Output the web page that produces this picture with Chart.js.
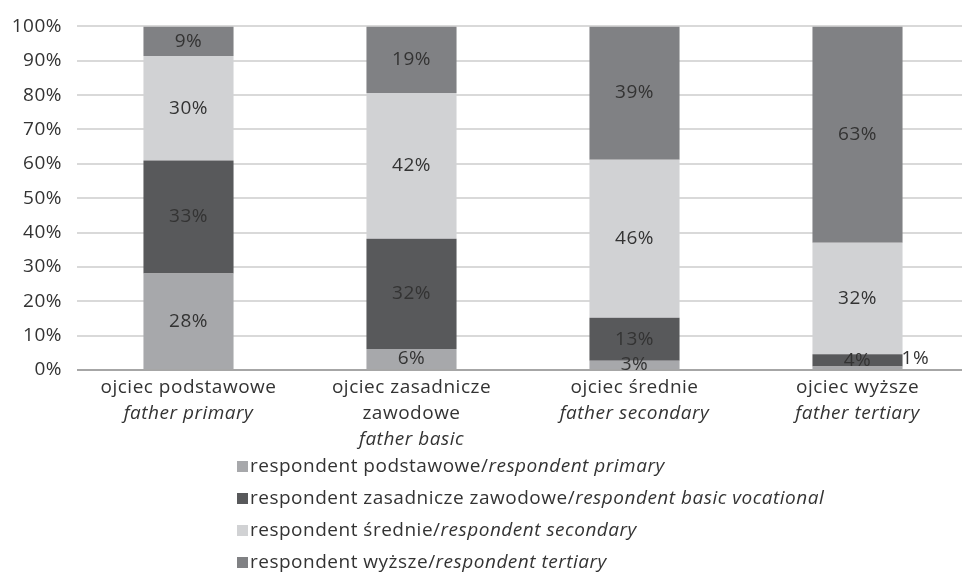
<!DOCTYPE html>
<html>
<head>
<meta charset="utf-8">
<script src="https://cdn.jsdelivr.net/npm/chart.js@4/dist/chart.umd.min.js"></script>
<style>
    body { margin: 0; width: 962px; height: 576px; overflow: hidden; background: #fff; font-family: "Open Sans", sans-serif; color: #333; }
    #chart-wrap { position: absolute; left: 0; top: 0; width: 970px; height: 450px; }
    #legend { position: absolute; left: 237px; top: 449px; font-size: 19px; letter-spacing: 0.5px; }
    .legend-row { height: 32px; line-height: 32px; white-space: nowrap; }
    .swatch { display: inline-block; width: 11px; height: 11px; margin-right: 2px; vertical-align: 0px; }
</style>
</head>
<body>
<div id="chart-wrap"><canvas id="chart"></canvas></div>
<div id="legend"></div>
<script>
// Categories (father's education), Polish lines + English line
const fatherPl = [['ojciec podstawowe'], ['ojciec zasadnicze', 'zawodowe'], ['ojciec średnie'], ['ojciec wyższe']];
const fatherEn = ['father primary', 'father basic', 'father secondary', 'father tertiary'];

// Series (respondent's education), percent shares
const primary = [28.1, 6.1, 2.7, 1.0];
const vocational = [32.9, 32.1, 12.5, 3.6];
const secondary = [30.4, 42.4, 46.0, 32.4];
const tertiary = [8.6, 19.4, 38.8, 63.0];

const yTicks = [0, 10, 20, 30, 40, 50, 60, 70, 80, 90, 100];

const seriesPl = ['respondent podstawowe', 'respondent zasadnicze zawodowe', 'respondent średnie', 'respondent wyższe'];
const seriesEn = ['respondent primary', 'respondent basic vocational', 'respondent secondary', 'respondent tertiary'];
const colors = ['#a7a8ab', '#58595b', '#d1d2d4', '#808184'];

const FONT = '"Open Sans", sans-serif';
const TEXT = '#333333';

// Slightly wider text to match the original typeface
const spacing = {
    id: 'spacing',
    beforeDraw(chart) {
        chart.ctx.letterSpacing = '0.5px';
    }
};

// Segment value labels
const segmentLabels = {
    id: 'segmentLabels',
    afterDatasetsDraw(chart) {
        const ctx = chart.ctx;
        ctx.save();
        ctx.font = '19px ' + FONT;
        ctx.fillStyle = TEXT;
        ctx.textBaseline = 'middle';
        chart.data.datasets.forEach((ds, di) => {
            const meta = chart.getDatasetMeta(di);
            meta.data.forEach((bar, i) => {
                const v = Math.round(ds.data[i]);
                const label = v + '%';
                if (v <= 1) {
                    ctx.textAlign = 'left';
                    ctx.fillText(label, bar.x + bar.width / 2 - 1, chart.scales.y.getPixelForValue(3.2));
                } else {
                    ctx.textAlign = 'center';
                    ctx.fillText(label, bar.x, (bar.y + bar.base) / 2);
                }
            });
        });
        ctx.restore();
    }
};

// Two-language category labels under the axis
const categoryLabels = {
    id: 'categoryLabels',
    afterDraw(chart) {
        const ctx = chart.ctx;
        const x = chart.scales.x;
        const bottom = chart.chartArea.bottom;
        ctx.save();
        ctx.fillStyle = TEXT;
        ctx.textAlign = 'center';
        ctx.textBaseline = 'alphabetic';
        fatherPl.forEach((lines, i) => {
            const cx = x.getPixelForValue(i);
            let y = bottom + 23;
            lines.forEach(line => {
                ctx.font = '19px ' + FONT;
                ctx.fillText(line, cx, y);
                y += 26;
            });
            ctx.font = 'italic 19px ' + FONT;
            ctx.fillText(fatherEn[i], cx, y);
        });
        ctx.restore();
    }
};

function buildLegend() {
    const legend = document.getElementById('legend');
    seriesPl.forEach((name, i) => {
        const row = document.createElement('div');
        row.className = 'legend-row';
        row.innerHTML = '<span class="swatch" style="background:' + colors[i] + '"></span>' +
            name + '/<i>' + seriesEn[i] + '</i>';
        legend.appendChild(row);
    });
}

function initializeChart() {
    const values = [primary, vocational, secondary, tertiary];
    new Chart(document.getElementById('chart'), {
        type: 'bar',
        data: {
            labels: fatherEn,
            datasets: values.map((data, i) => ({
                label: seriesPl[i],
                data: data,
                backgroundColor: colors[i],
                barPercentage: 0.404,
                categoryPercentage: 1
            }))
        },
        options: {
            responsive: true,
            maintainAspectRatio: false,
            animation: false,
            layout: { padding: { top: 24, bottom: 80, left: 0, right: 1 } },
            plugins: {
                legend: { display: false },
                tooltip: { enabled: false }
            },
            scales: {
                x: {
                    stacked: true,
                    display: false
                },
                y: {
                    stacked: true,
                    min: 0,
                    max: 100,
                    afterBuildTicks: scale => { scale.ticks = yTicks.map(v => ({ value: v })); },
                    afterFit: scale => { scale.width = 77; },
                    border: { display: false },
                    grid: {
                        drawTicks: false,
                        lineWidth: 2,
                        color: c => c.tick && c.tick.value === 0 ? '#a6a6a6' : '#d9d9d9'
                    },
                    ticks: {
                        padding: 15,
                        color: TEXT,
                        font: { family: FONT, size: 19 },
                        callback: v => v + '%'
                    }
                }
            }
        },
        plugins: [spacing, segmentLabels, categoryLabels]
    });
}

document.addEventListener('DOMContentLoaded', () => {
    buildLegend();
    initializeChart();
});
</script>
</body>
</html>
